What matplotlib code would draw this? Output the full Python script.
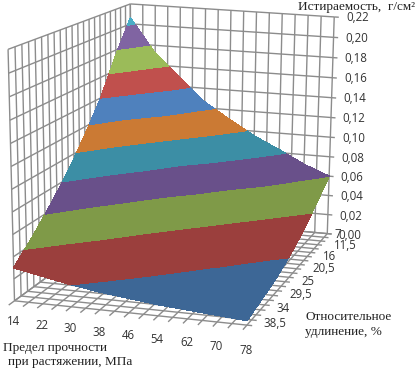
import numpy as np
import matplotlib
matplotlib.use('Agg')
import matplotlib.pyplot as plt

# axis values of the surface chart
x_cats = [14, 22, 30, 38, 46, 54, 62, 70, 78]
y_cats = [7, 11.5, 16, 20.5, 25, 29.5, 34, 38.5]
z_ticks = [0, 0.02, 0.04, 0.06, 0.08, 0.10, 0.12, 0.14, 0.16, 0.18, 0.20, 0.22]

x_labels = ['14', '22', '30', '38', '46', '54', '62', '70', '78']
y_labels = ['7', '11,5', '16', '20,5', '25', '29,5', '34', '38,5']
z_labels = ['0,00', '0,02', '0,04', '0,06', '0,08', '0,10', '0,12', '0,14', '0,16', '0,18', '0,20', '0,22']

# wear values, one row per y_cats entry, one column per x_cats entry
wear_y07 = [.206, .172, .149, .126, .110, .095, .083, .070, .060]
wear_y11 = [.175, .145, .125, .105, .091, .078, .067, .056, .048]
wear_y16 = [.140, .115, .098, .082, .070, .060, .051, .043, .036]
wear_y20 = [.112, .091, .077, .063, .054, .045, .038, .031, .026]
wear_y25 = [.087, .070, .058, .047, .040, .033, .027, .022, .018]
wear_y29 = [.066, .052, .043, .035, .029, .023, .019, .015, .012]
wear_y34 = [.047, .037, .030, .024, .020, .016, .013, .010, .008]
wear_y38 = [.030, .025, .020, .016, .013, .010, .008, .006, .004]

band_colors = ['#3d6796', '#9b3f3d', '#7f9a48', '#69508a', '#3c8ea5', '#cb7a34',
               '#4f81bd', '#c0504d', '#9bbb59', '#8064a2', '#4bacc6']

# box corners of the 3D chart on the picture, used to fit the camera
box_3d = [(14, 7, 0), (78, 7, 0), (14, 38.5, 0), (78, 38.5, 0),
          (14, 7, .22), (78, 7, .22), (14, 38.5, .22), (78, 38.5, .22)]
box_px = [(130, 218), (328, 232), (15, 299), (247, 326),
          (132, 5), (333, 15), (7, 47), (252, 70)]

rows = []
rhs = []
for (a, b, c), (u, v) in zip(box_3d, box_px):
    rows.append([a, b, c, 1, 0, 0, 0, 0, -u * a, -u * b, -u * c])
    rows.append([0, 0, 0, 0, a, b, c, 1, -v * a, -v * b, -v * c])
    rhs += [u, v]
cam = np.linalg.lstsq(np.array(rows, float), np.array(rhs, float), rcond=None)[0]
cam = np.append(cam, 1).reshape(3, 4)


def project(a, b, c):
    a, b, c = np.asarray(a, float), np.asarray(b, float), np.asarray(c, float)
    w = cam[2, 0] * a + cam[2, 1] * b + cam[2, 2] * c + cam[2, 3]
    u = (cam[0, 0] * a + cam[0, 1] * b + cam[0, 2] * c + cam[0, 3]) / w
    v = (cam[1, 0] * a + cam[1, 1] * b + cam[1, 2] * c + cam[1, 3]) / w
    return u, v


def seg(ax, p, q, lw=1.0):
    u, v = project([p[0], q[0]], [p[1], q[1]], [p[2], q[2]])
    ax.plot(u, v, color='#8c8c8c', lw=lw, solid_capstyle='butt', zorder=1)


fig = plt.figure(figsize=(4.2, 3.7), dpi=100)
ax = fig.add_axes([0, 0, 1, 1])
ax.set_xlim(0, 420)
ax.set_ylim(370, 0)
ax.axis('off')

x0, x1 = x_cats[0], x_cats[-1]
y0, y1 = y_cats[0], y_cats[-1]
ztop = z_ticks[-1]

# grid on the walls and floor
for a in np.arange(x0, x1 + 1, 4):
    seg(ax, (a, y0, 0), (a, y0, ztop))
    seg(ax, (a, y0, 0), (a, y1, 0))
for b in np.arange(y0, y1 + .1, 1.5):
    seg(ax, (x0, b, 0), (x0, b, ztop))
    seg(ax, (x0, b, 0), (x1, b, 0))
for c in z_ticks:
    seg(ax, (x0, y0, c), (x1, y0, c))
    seg(ax, (x0, y0, c), (x0, y1, c))
    seg(ax, (x1, y0, c), (x1 + 1.4, y0, c))
for a in np.arange(x0, x1 + 1, 4):
    seg(ax, (a, y1, 0), (a, y1 + 1.3, 0))
for b in np.arange(y0, y1 + .1, 1.5):
    seg(ax, (x1, b, 0), (x1 + 1.4, b, 0))

# the surface, banded by contourf on the projected mesh
X, Y = np.meshgrid(x_cats, y_cats)
Z = np.array([wear_y07, wear_y11, wear_y16, wear_y20, wear_y25, wear_y29, wear_y34, wear_y38])
U, V = project(X, Y, Z)
cs = ax.contourf(U, V, Z, levels=z_ticks, colors=band_colors, zorder=3)
cs.set_edgecolor('face')
cs.set_linewidth(0.3)

# tick labels
tick_font = dict(family='Open Sans', fontsize=8.3, color='#333333', va='center')
for i, (a, s) in enumerate(zip(x_cats, x_labels)):
    u, v = project(a, y1, 0)
    ax.text(u - 1, v + 21 + 0.5 * i, s, ha='center', **tick_font)
for i, (b, s) in enumerate(zip(y_cats, y_labels)):
    u, v = project(x1, b, 0)
    # the one digit label sits further in, over the 0,00 of the vertical axis
    shift = 7 if len(s) == 1 else 16
    ax.text(u + shift, v + 1 - 0.4 * i, s, ha='left', **tick_font)
for c, s in zip(z_ticks, z_labels):
    u, v = project(x1 + 5, y0, c)
    ax.text(u + 7, v, s, ha='center', **tick_font)

# axis titles
serif = dict(family='Liberation Serif', fontsize=9.5, color='#222222', va='center')
ax.text(298, 7, 'Истираемость,  г/см²', **serif)
ax.text(3, 348, 'Предел прочности', **serif)
ax.text(8, 362, 'при растяжении, МПа', **serif)
ax.text(305, 317, 'Относительное', **serif)
ax.text(305, 332, 'удлинение, %', **serif)

fig.savefig('out.png', dpi=100)
